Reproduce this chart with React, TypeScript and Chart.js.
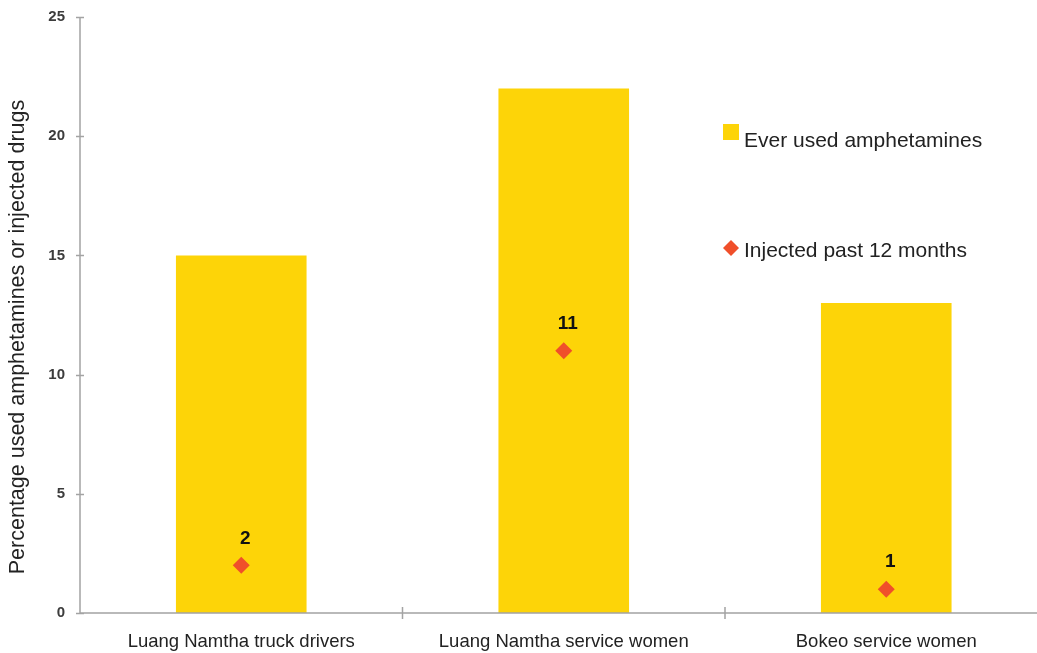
import React, { useEffect, useRef } from "react";
import { Chart, registerables } from "chart.js";

Chart.register(...registerables);

// Survey groups and their reported percentages
const categories = [
  "Luang Namtha truck drivers",
  "Luang Namtha service women",
  "Bokeo service women",
];
const everUsedAmphetamines = [15, 22, 13];
const injectedPast12Months = [2, 11, 1];
const yTicks = [0, 5, 10, 15, 20, 25];
const seriesNames = ["Ever used amphetamines", "Injected past 12 months"];
const yAxisTitle = "Percentage used amphetamines or injected drugs";

const BAR_COLOR = "#FDD408";
const POINT_COLOR = "#F04F2A";
const AXIS_COLOR = "#A3A3A3";
const TEXT_COLOR = "#222222";
const FONT = "'Liberation Sans', Arial, Helvetica, sans-serif";

const CANVAS_W = 1056;
const CANVAS_H = 653;

// Draws the crossing axis ticks, value labels, legend and the axis title
const decorations = {
  id: "decorations",
  afterDatasetsDraw(chart: any) {
    const { ctx, chartArea, scales } = chart;
    const xs = scales.x;
    const ys = scales.y;
    const { left, right, top, bottom } = chartArea;

    ctx.save();

    // axis lines and tick marks
    ctx.strokeStyle = AXIS_COLOR;
    ctx.lineWidth = 1.5;
    ctx.beginPath();
    ctx.moveTo(left, top);
    ctx.lineTo(left, bottom);
    ctx.moveTo(left, bottom);
    ctx.lineTo(right, bottom);
    for (const v of yTicks) {
      const py = Math.round(ys.getPixelForValue(v)) + 0.5;
      ctx.moveTo(left - 4, py);
      ctx.lineTo(left + 4, py);
    }
    for (let i = 1; i < categories.length; i++) {
      const px = (xs.getPixelForValue(i - 1) + xs.getPixelForValue(i)) / 2;
      ctx.moveTo(px, bottom - 6);
      ctx.lineTo(px, bottom + 6);
    }
    ctx.stroke();

    // value labels above the injection markers
    const meta = chart.getDatasetMeta(1);
    ctx.fillStyle = "#111111";
    ctx.font = `bold 19px ${FONT}`;
    ctx.textAlign = "center";
    ctx.textBaseline = "middle";
    meta.data.forEach((pt: any, i: number) => {
      ctx.fillText(String(injectedPast12Months[i]), pt.x + 4, pt.y - 27);
    });

    // legend
    ctx.textAlign = "left";
    ctx.textBaseline = "alphabetic";
    ctx.font = `21px ${FONT}`;
    ctx.fillStyle = BAR_COLOR;
    ctx.fillRect(723, 124, 16, 16);
    ctx.fillStyle = TEXT_COLOR;
    ctx.fillText(seriesNames[0], 744, 147);

    ctx.fillStyle = POINT_COLOR;
    ctx.beginPath();
    ctx.moveTo(731, 240);
    ctx.lineTo(739, 248);
    ctx.lineTo(731, 256);
    ctx.lineTo(723, 248);
    ctx.closePath();
    ctx.fill();
    ctx.fillStyle = TEXT_COLOR;
    ctx.fillText(seriesNames[1], 744, 257);

    // y-axis title
    ctx.translate(18, 337);
    ctx.rotate(-Math.PI / 2);
    ctx.textAlign = "center";
    ctx.textBaseline = "middle";
    ctx.font = `21.5px ${FONT}`;
    ctx.fillStyle = TEXT_COLOR;
    ctx.fillText(yAxisTitle, 0, 0);

    ctx.restore();
  },
};

export default function App() {
  const canvasRef = useRef<HTMLCanvasElement | null>(null);

  useEffect(() => {
    if (!canvasRef.current) return;
    const chart = new Chart(canvasRef.current, {
      type: "bar",
      data: {
        labels: categories,
        datasets: [
          {
            type: "bar",
            label: seriesNames[0],
            data: everUsedAmphetamines,
            backgroundColor: BAR_COLOR,
            borderWidth: 0,
            barPercentage: 0.405,
            categoryPercentage: 1,
            order: 2,
          },
          {
            type: "line",
            label: seriesNames[1],
            data: injectedPast12Months,
            showLine: false,
            pointStyle: "rectRot",
            pointRadius: 8.5,
            pointBackgroundColor: POINT_COLOR,
            pointBorderWidth: 0,
            borderColor: POINT_COLOR,
            order: 1,
          } as any,
        ],
      },
      options: {
        responsive: false,
        animation: false,
        devicePixelRatio: 1,
        layout: { padding: { top: 17, right: 6, left: 0, bottom: 0 } },
        plugins: {
          legend: { display: false },
          tooltip: { enabled: false },
          title: { display: false },
        },
        scales: {
          x: {
            grid: { display: false, drawTicks: false },
            border: { display: false },
            ticks: {
              color: TEXT_COLOR,
              font: { family: FONT, size: 18.5 },
              padding: 18,
              maxRotation: 0,
              autoSkip: false,
            },
            afterFit(scale: any) {
              scale.height = 40;
              scale.paddingLeft = 0;
              scale.paddingRight = 0;
            },
          },
          y: {
            min: 0,
            max: 25,
            grid: { display: false, drawTicks: false },
            border: { display: false },
            ticks: {
              stepSize: 5,
              color: "#3C3C3C",
              font: { family: FONT, size: 15, weight: "bold" },
              padding: 15,
            },
            afterFit(scale: any) {
              scale.width = 80;
              scale.paddingTop = 0;
              scale.paddingBottom = 0;
            },
          },
        },
      },
      plugins: [decorations],
    });
    return () => chart.destroy();
  }, []);

  return (
    <div
      style={{
        position: "fixed",
        left: 0,
        top: 0,
        width: CANVAS_W,
        height: CANVAS_H,
        background: "#ffffff",
      }}
    >
      <canvas ref={canvasRef} width={CANVAS_W} height={CANVAS_H} />
    </div>
  );
}
